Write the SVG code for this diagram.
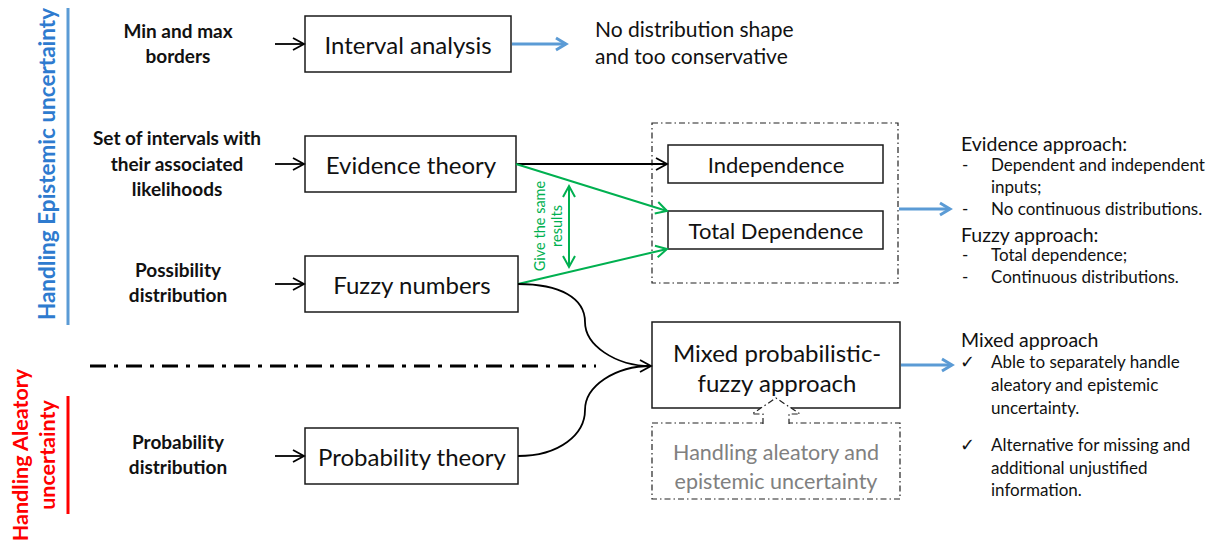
<svg xmlns="http://www.w3.org/2000/svg" width="1218" height="545" viewBox="0 0 1218 545">
  <style>
    text { font-family: Lato, "Open Sans", "Liberation Sans", sans-serif; }
    .box { fill: #fff; stroke: #1a1a1a; stroke-width: 1.5; }
    .boxtxt { font-size: 24px; fill: #111; text-anchor: middle; dominant-baseline: central; }
    .boxtxt.small { font-size: 22px; }
    .lbl { font-size: 19px; font-weight: bold; fill: #111; text-anchor: middle; }
    .note { font-size: 21px; fill: #111; }
    .side { font-size: 17px; fill: #111; }
    .tick { font-size: 18px; fill: #111; font-family: "DejaVu Sans", sans-serif; }
    .head { font-size: 19.5px; fill: #111; }
    .blk { stroke: #000; stroke-width: 1.8; fill: none; }
    .blu { stroke: #5b9bd5; stroke-width: 3; fill: none; }
    .grn { stroke: #00b050; stroke-width: 2; fill: none; }
    .dashbox { fill: none; stroke: #222; stroke-width: 1.2; stroke-dasharray: 6 3 1.5 3; }
  </style>
  <defs>
    <marker id="ah-black" markerUnits="userSpaceOnUse" markerWidth="16" markerHeight="16" refX="13" refY="8" orient="auto">
      <path d="M2,2 L13,8 L2,14" fill="none" stroke="#000" stroke-width="1.8"/>
    </marker>
    <marker id="ah-blue" markerUnits="userSpaceOnUse" markerWidth="16" markerHeight="16" refX="13" refY="8" orient="auto">
      <path d="M3,2 L13,8 L3,14" fill="none" stroke="#5b9bd5" stroke-width="3"/>
    </marker>
    <marker id="ah-green" markerUnits="userSpaceOnUse" markerWidth="16" markerHeight="16" refX="13" refY="8" orient="auto">
      <path d="M2,2 L13,8 L2,14" fill="none" stroke="#00b050" stroke-width="2"/>
    </marker>
    <marker id="ah-green-start" markerUnits="userSpaceOnUse" markerWidth="16" markerHeight="16" refX="3" refY="8" orient="auto">
      <path d="M14,2 L3,8 L14,14" fill="none" stroke="#00b050" stroke-width="2"/>
    </marker>
  </defs>

  <!-- side bands -->
  <g id="band-epistemic">
    <line x1="68" y1="8" x2="68" y2="325" stroke="#5b9bd5" stroke-width="3"/>
    <text transform="translate(55,164) rotate(-90)" text-anchor="middle" font-size="22.5" font-weight="bold" fill="#2e7bcf">Handling Epistemic uncertainty</text>
  </g>
  <g id="band-aleatory">
    <line x1="68" y1="396" x2="68" y2="514" stroke="#ff0000" stroke-width="3"/>
    <text transform="translate(28,455) rotate(-90)" text-anchor="middle" font-size="21.5" font-weight="bold" fill="#ff0000">Handling Aleatory</text>
    <text transform="translate(55,455) rotate(-90)" text-anchor="middle" font-size="21.5" font-weight="bold" fill="#ff0000">uncertainty</text>
  </g>

  <!-- separator between epistemic and aleatory -->
  <line x1="90" y1="366" x2="596" y2="366" stroke="#000" stroke-width="3" stroke-dasharray="16 8 4 8"/>

  <!-- input labels -->
  <g id="label-minmax">
    <text class="lbl" x="178" y="38">Min and max</text>
    <text class="lbl" x="178" y="63">borders</text>
  </g>
  <g id="label-intervals">
    <text class="lbl" x="177" y="145">Set of intervals with</text>
    <text class="lbl" x="177" y="171">their associated</text>
    <text class="lbl" x="177" y="196">likelihoods</text>
  </g>
  <g id="label-possibility">
    <text class="lbl" x="178" y="277">Possibility</text>
    <text class="lbl" x="178" y="302">distribution</text>
  </g>
  <g id="label-probability">
    <text class="lbl" x="178" y="449">Probability</text>
    <text class="lbl" x="178" y="474">distribution</text>
  </g>

  <!-- method boxes -->
  <g id="node-interval">
    <rect class="box" x="305" y="16" width="206" height="56"/>
    <text class="boxtxt" x="408" y="44">Interval analysis</text>
  </g>
  <g id="node-evidence">
    <rect class="box" x="305" y="136" width="211" height="56"/>
    <text class="boxtxt" x="411" y="164">Evidence theory</text>
  </g>
  <g id="node-fuzzy">
    <rect class="box" x="305" y="256" width="213" height="56"/>
    <text class="boxtxt" x="412" y="284">Fuzzy numbers</text>
  </g>
  <g id="node-probability">
    <rect class="box" x="305" y="428" width="213" height="56"/>
    <text class="boxtxt" x="412" y="456">Probability theory</text>
  </g>

  <!-- dependence group -->
  <g id="node-dependence-group">
    <rect class="dashbox" x="652" y="123" width="246" height="160"/>
  </g>
  <g id="node-independence">
    <rect class="box" x="668" y="145" width="215" height="38"/>
    <text class="boxtxt small" x="776" y="164">Independence</text>
  </g>
  <g id="node-total-dependence">
    <rect class="box" x="668" y="211" width="215" height="38"/>
    <text class="boxtxt small" x="776" y="230">Total Dependence</text>
  </g>

  <!-- mixed approach -->
  <g id="node-mixed">
    <rect class="box" x="652" y="322" width="248" height="86"/>
    <text class="boxtxt" x="777" y="352">Mixed probabilistic-</text>
    <text class="boxtxt" x="777" y="382">fuzzy approach</text>
  </g>
  <g id="node-handling">
    <rect class="dashbox" x="652" y="423" width="248" height="76"/>
    <path d="M763,424 L763,414 L752,414 L776,398 L800,414 L789,414 L789,424" fill="#fff" stroke="#222" stroke-width="1.2" stroke-dasharray="6 3 1.5 3"/>
    <text x="776" y="452" font-size="21.5" fill="#808080" text-anchor="middle" dominant-baseline="central">Handling aleatory and</text>
    <text x="776" y="481" font-size="21.5" fill="#808080" text-anchor="middle" dominant-baseline="central">epistemic uncertainty</text>
  </g>

  <!-- outcome notes -->
  <g id="note-interval">
    <text class="note" x="595" y="37">No distribution shape</text>
    <text class="note" x="595" y="64">and too conservative</text>
  </g>
  <g id="note-evidence-fuzzy">
    <text class="head" x="961" y="151">Evidence approach:</text>
    <text class="side" x="962" y="171">-</text>
    <text class="side" x="991" y="171">Dependent and independent</text>
    <text class="side" x="991" y="193">inputs;</text>
    <text class="side" x="962" y="215">-</text>
    <text class="side" x="991" y="215">No continuous distributions.</text>
    <text class="head" x="961" y="242">Fuzzy approach:</text>
    <text class="side" x="962" y="261">-</text>
    <text class="side" x="991" y="261">Total dependence;</text>
    <text class="side" x="962" y="283">-</text>
    <text class="side" x="991" y="283">Continuous distributions.</text>
  </g>
  <g id="note-mixed">
    <text class="head" x="961" y="347">Mixed approach</text>
    <text class="tick" x="960" y="368">✓</text>
    <text class="side" x="991" y="368">Able to separately handle</text>
    <text class="side" x="991" y="391">aleatory and epistemic</text>
    <text class="side" x="991" y="414">uncertainty.</text>
    <text class="tick" x="960" y="451">✓</text>
    <text class="side" x="991" y="451">Alternative for missing and</text>
    <text class="side" x="991" y="474">additional unjustified</text>
    <text class="side" x="991" y="496">information.</text>
  </g>

  <!-- connectors -->
  <g id="connectors">
    <line class="blk" x1="275" y1="44" x2="304" y2="44" marker-end="url(#ah-black)"/>
    <line class="blk" x1="275" y1="164" x2="304" y2="164" marker-end="url(#ah-black)"/>
    <line class="blk" x1="275" y1="284" x2="304" y2="284" marker-end="url(#ah-black)"/>
    <line class="blk" x1="275" y1="456" x2="304" y2="456" marker-end="url(#ah-black)"/>

    <line class="blu" x1="512" y1="44" x2="566" y2="44" marker-end="url(#ah-blue)"/>
    <line class="blu" x1="899" y1="209" x2="950" y2="209" marker-end="url(#ah-blue)"/>
    <line class="blu" x1="901" y1="365" x2="952" y2="365" marker-end="url(#ah-blue)"/>

    <line class="blk" x1="516" y1="164" x2="667" y2="164" marker-end="url(#ah-black)"/>
    <line class="grn" x1="516" y1="164" x2="667" y2="211" marker-end="url(#ah-green)"/>
    <line class="grn" x1="518" y1="284" x2="667" y2="249" marker-end="url(#ah-green)"/>
    <line class="grn" x1="569" y1="186" x2="569" y2="267" marker-start="url(#ah-green-start)" marker-end="url(#ah-green)"/>

    <path class="blk" d="M518,284 C560,284 585,298 585,322 C585,345 615,366 651,366" marker-end="url(#ah-black)"/>
    <path class="blk" d="M518,456 C560,456 585,434 585,410 C585,386 615,366 651,366"/>
  </g>

  <!-- label on the green double arrow -->
  <g id="label-same-results">
    <text transform="translate(545,226) rotate(-90)" text-anchor="middle" font-size="14.5" fill="#00b050">Give the same</text>
    <text transform="translate(562,226) rotate(-90)" text-anchor="middle" font-size="14.5" fill="#00b050">results</text>
  </g>
</svg>
